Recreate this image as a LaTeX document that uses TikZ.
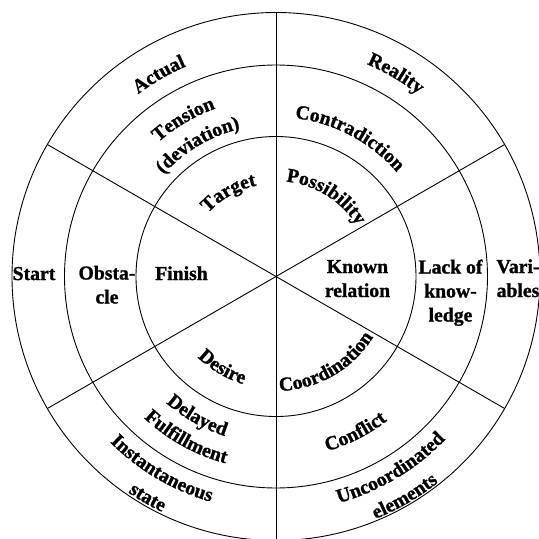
\documentclass[tikz,border=0pt]{standalone}
\usepackage{fontspec}
\setmainfont{Liberation Serif}[BoldFont={Liberation Serif Bold}, BoldFeatures={FakeBold=1.2}]
\usetikzlibrary{decorations.text}
\newcommand\lblfont{\bfseries\fontsize{19.7}{24}\selectfont}
\tikzset{
  ring/.style={line width=0.9pt, black},
  flat/.style={font=\lblfont, align=center, inner sep=0pt, anchor=base},
}
% curved label over the top half: angle, baseline radius, text
\newcommand\toptext[3]{%
  \path[decorate, decoration={text along path, text={|\lblfont|#3}, text align=center}]
    ({#1+70}:#2pt) arc[start angle={#1+70}, end angle={#1-70}, radius=#2pt];}
% curved label over the bottom half
\newcommand\bottext[3]{%
  \path[decorate, decoration={text along path, text={|\lblfont|#3}, text align=center}]
    ({#1-70}:#2pt) arc[start angle={#1-70}, end angle={#1+70}, radius=#2pt];}
\begin{document}
\begin{tikzpicture}[x=1pt,y=1pt]
\useasboundingbox (-276,-262.5) rectangle (263,276.5);
\coordinate (c) at (0,0);
% rings
\draw[ring] (c) circle[radius=264pt];
\draw[ring] (c) circle[radius=211.5pt];
\draw[ring] (c) circle[radius=140pt];
% dividing diameters
\draw[ring] (90:264pt) -- (270:264pt);
\draw[ring] (30:264pt) -- (210:264pt);
\draw[ring] (150:264pt) -- (330:264pt);
% horizontal labels (base = baseline of the last line)
\node[flat] (start)  at (-242,-3.5) {Start};
\node[flat] (obst)   at (-169,-27) {Obsta-\\cle};
\node[flat] (finish) at (-94.5,-3.5) {Finish};
\node[flat] (known)  at (81.5,-20.5) {Known\\relation};
\node[flat] (lack)   at (174.5,-45) {Lack of\\know-\\ledge};
\node[flat] (vari)   at (242,-20.5) {Vari-\\ables};
% curved labels, top
\toptext{120.1}{228.5}{Actual}
\toptext{59.4}{231}{Reality}
\toptext{120.5}{178.5}{Tension}
\toptext{120.7}{152}{(deviation)}
\toptext{62}{159.5}{Contradiction}
\toptext{119.5}{93}{Target}
\toptext{58}{95.5}{Possibility}
% curved labels, bottom
\bottext{239.5}{112.5}{Desire}
\bottext{300}{114.5}{Coordination}
\bottext{240.6}{167.5}{Delayed}
\bottext{240.9}{193.5}{Fulfillment}
\bottext{297}{182}{Conflict}
\bottext{239.4}{234.5}{Instantaneous}
\bottext{239.9}{261.5}{state}
\bottext{300.8}{235}{Uncoordinated}
\bottext{300.3}{262}{elements}
\end{tikzpicture}
\end{document}
